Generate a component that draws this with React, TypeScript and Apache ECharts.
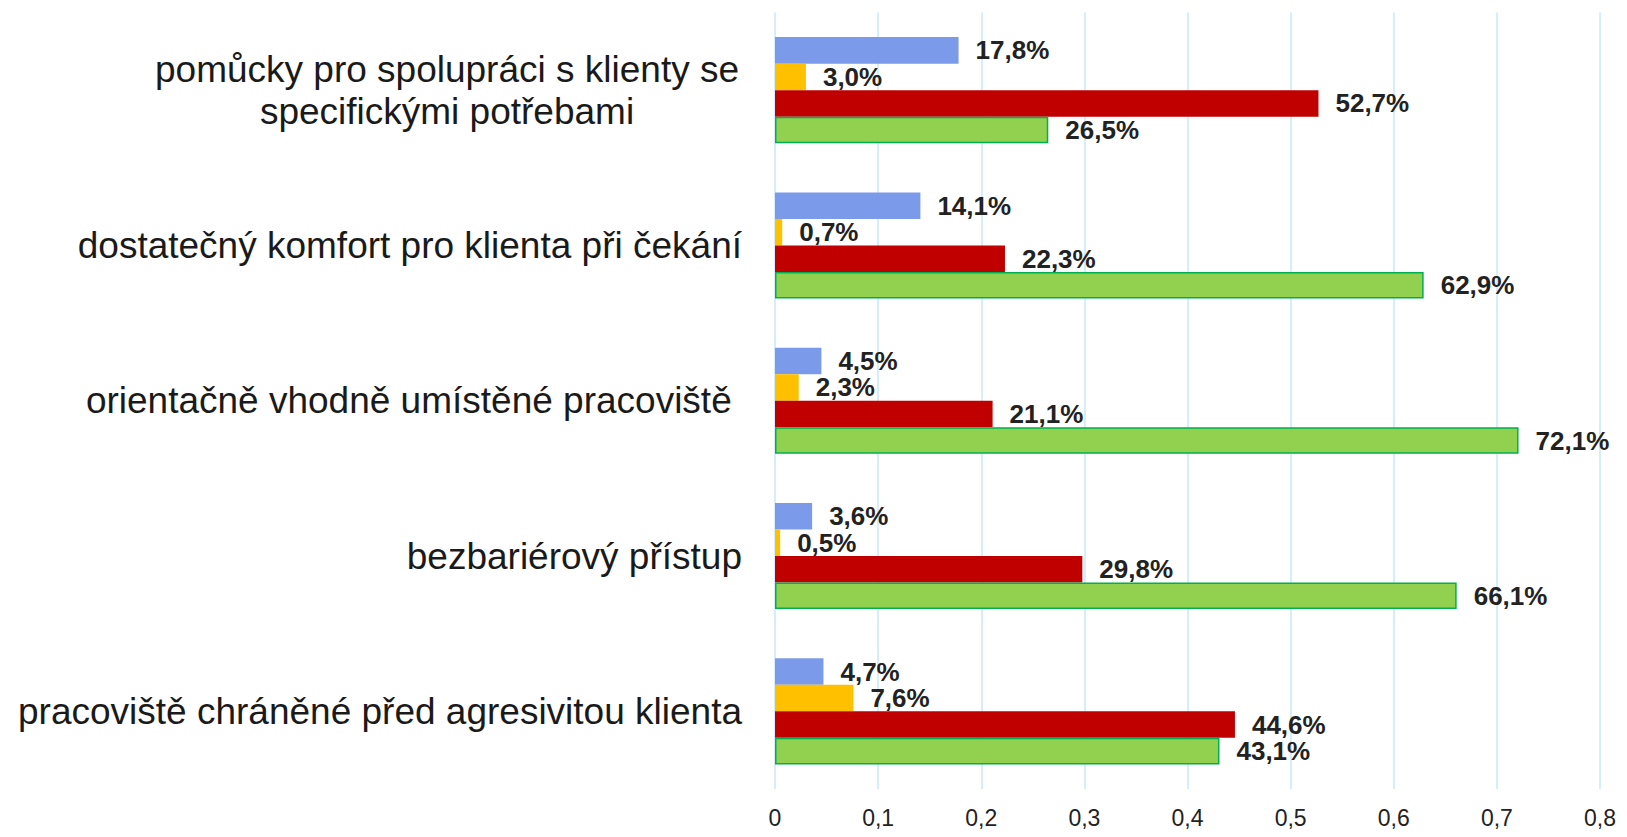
import React, { useEffect, useRef } from "react";
import * as echarts from "echarts";

const categories = [
  "pomůcky pro spolupráci s klienty se\nspecifickými potřebami",
  "dostatečný komfort pro klienta při čekání",
  "orientačně vhodně umístěné pracoviště\u00a0",
  "bezbariérový přístup",
  "pracoviště chráněné před agresivitou klienta",
];

const seriesBlue = [0.178, 0.141, 0.045, 0.036, 0.047];
const seriesYellow = [0.03, 0.007, 0.023, 0.005, 0.076];
const seriesRed = [0.527, 0.223, 0.211, 0.298, 0.446];
const seriesGreen = [0.265, 0.629, 0.721, 0.661, 0.431];

const xTicks = { min: 0, max: 0.8, interval: 0.1 };

const FONT = "'Liberation Sans', Arial, sans-serif";

export default function App() {
  const ref = useRef<HTMLDivElement>(null);
  useEffect(() => {
    if (!ref.current) return;
    const chart = echarts.init(ref.current, null, { renderer: "svg" });
    const label = {
      show: true,
      position: "right",
      distance: 17,
      fontSize: 26,
      fontWeight: "bold",
      fontFamily: FONT,
      color: "#222222",
      formatter: (p: any) => (p.value * 100).toFixed(1).replace(".", ",") + "%",
    };
    const mk = (data: number[], color: string, border?: string) => ({
      type: "bar",
      data,
      barGap: "0%",
      barCategoryGap: "31.7%",
      itemStyle: border
        ? { color, borderColor: border, borderWidth: 1.5 }
        : { color },
      label,
    });
    chart.setOption({
      animation: false,
      grid: { left: 767, right: 11, top: 4.5, bottom: 33, containLabel: false },
      xAxis: {
        type: "value",
        min: xTicks.min,
        max: xTicks.max,
        interval: xTicks.interval,
        axisLine: { show: false },
        axisTick: { show: false },
        splitLine: { show: true, lineStyle: { color: "#c8e8fa", width: 1.5 } },
        axisLabel: {
          fontSize: 23,
          fontFamily: FONT,
          color: "#222222",
          margin: 17,
          formatter: (v: number) => String(Math.round(v * 10) / 10).replace(".", ","),
        },
      },
      yAxis: {
        type: "category",
        data: categories,
        inverse: true,
        axisLine: { show: false },
        axisTick: { show: false },
        axisLabel: {
          fontSize: 37,
          fontFamily: FONT,
          color: "#1a1a1a",
          margin: 33,
          lineHeight: 42,
          formatter: (v: string) =>
            v.includes("\n")
              ? v
                  .split("\n")
                  .map((s) => `{c|${s}}`)
                  .join("\n")
              : v,
          rich: {
            c: {
              width: 590,
              align: "center",
              fontSize: 37,
              fontFamily: FONT,
              color: "#1a1a1a",
              lineHeight: 42,
            },
          },
        },
      },
      series: [
        mk(seriesBlue, "#7b9ae9"),
        mk(seriesYellow, "#ffc000"),
        mk(seriesRed, "#c00000"),
        mk(seriesGreen, "#92d050", "#00b050"),
      ],
    });
    return () => chart.dispose();
  }, []);
  return <div ref={ref} style={{ width: 1611, height: 821 }} />;
}
